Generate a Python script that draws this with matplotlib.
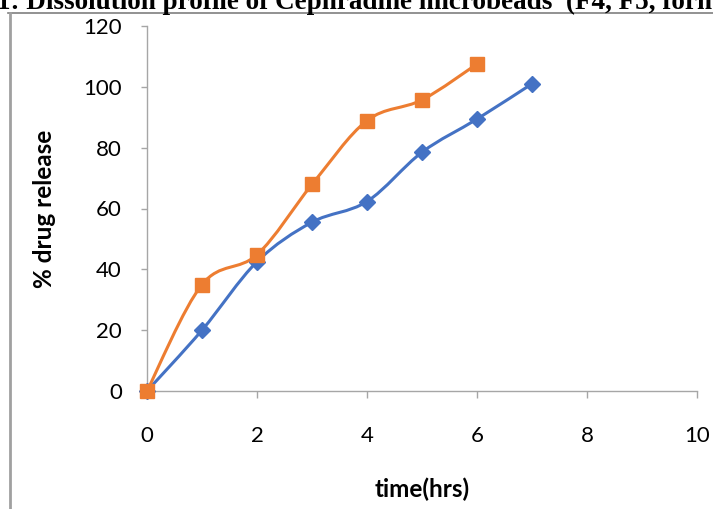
import matplotlib.pyplot as plt
from matplotlib.path import Path
from matplotlib.patches import PathPatch
from matplotlib.lines import Line2D

# dissolution data
time_blue = [0, 1, 2, 3, 4, 5, 6, 7]
release_blue = [0, 20.0, 42.5, 55.5, 62.3, 78.5, 89.4, 101.0]
time_orange = [0, 1, 2, 3, 4, 5, 6]
release_orange = [0, 35.0, 44.8, 67.9, 88.9, 95.7, 107.5]

x_ticks = [0, 2, 4, 6, 8, 10]
y_ticks = [0, 20, 40, 60, 80, 100, 120]

BLUE = "#4472C4"
ORANGE = "#ED7D31"
AXIS_GRAY = "#A6A6A6"
LABEL_FONT = ["Lato", "DejaVu Sans"]


def smooth_path(xs, ys):
    """Excel-like smoothed line as cubic bezier through the points"""
    pts = list(zip(xs, ys))
    verts = [pts[0]]
    codes = [Path.MOVETO]
    n = len(pts)
    for i in range(n - 1):
        p0 = pts[i - 1] if i > 0 else pts[i]
        p1 = pts[i]
        p2 = pts[i + 1]
        p3 = pts[i + 2] if i + 2 < n else pts[i + 1]
        c1 = (p1[0] + (p2[0] - p0[0]) / 6, p1[1] + (p2[1] - p0[1]) / 6)
        c2 = (p2[0] - (p3[0] - p1[0]) / 6, p2[1] - (p3[1] - p1[1]) / 6)
        verts += [c1, c2, p2]
        codes += [Path.CURVE4] * 3
    return Path(verts, codes)


fig = plt.figure(figsize=(7.13, 5.09), dpi=100)
ax = fig.add_axes([147 / 713, 118 / 509, 550 / 713, 365 / 509])

for xs, ys, col, mk, ms in [(time_blue, release_blue, BLUE, "D", 8),
                            (time_orange, release_orange, ORANGE, "s", 10)]:
    ax.add_patch(PathPatch(smooth_path(xs, ys), facecolor="none",
                           edgecolor=col, lw=2.2, clip_on=False, zorder=3))
    ax.plot(xs, ys, ls="none", marker=mk, ms=ms, color=col,
            clip_on=False, zorder=4)

ax.set_xlim(0, 10)
ax.set_ylim(0, 120)
ax.set_xticks(x_ticks)
ax.set_yticks(y_ticks)

for side in ["top", "right"]:
    ax.spines[side].set_visible(False)
for side in ["left", "bottom"]:
    ax.spines[side].set_color(AXIS_GRAY)
    ax.spines[side].set_linewidth(1.0)

ax.tick_params(axis="x", direction="out", length=5, width=1.0,
               color=AXIS_GRAY, pad=20, labelsize=16)
ax.tick_params(axis="y", direction="out", length=4, width=1.0,
               color=AXIS_GRAY, pad=14, labelsize=16)
for lbl in ax.get_xticklabels() + ax.get_yticklabels():
    lbl.set_family(LABEL_FONT)

ax.set_xlabel("time(hrs)", fontsize=17.5, fontweight="bold",
              family=LABEL_FONT)
ax.set_ylabel("% drug release", fontsize=17.5, fontweight="bold",
              family=LABEL_FONT)
ax.xaxis.set_label_coords(0.5, -0.236)
ax.yaxis.set_label_coords(-0.165, 0.5)

# cut-off caption from the page and the frame around the chart
fig.text(-0.004, 1 - 9 / 509, "1: Dissolution profile of Cephradine microbeads  (F4, F5, formulations)",
         family=["Liberation Serif"], fontweight="bold", fontsize=19.5,
         ha="left", va="baseline")
fig.add_artist(Line2D([8 / 713, 1], [1 - 13 / 509] * 2, color="#7F7F7F", lw=1.2))
fig.add_artist(Line2D([10 / 713] * 2, [0, 1 - 13 / 509], color="#A0A0A0", lw=2.0))

fig.savefig("out.png", dpi=100)
